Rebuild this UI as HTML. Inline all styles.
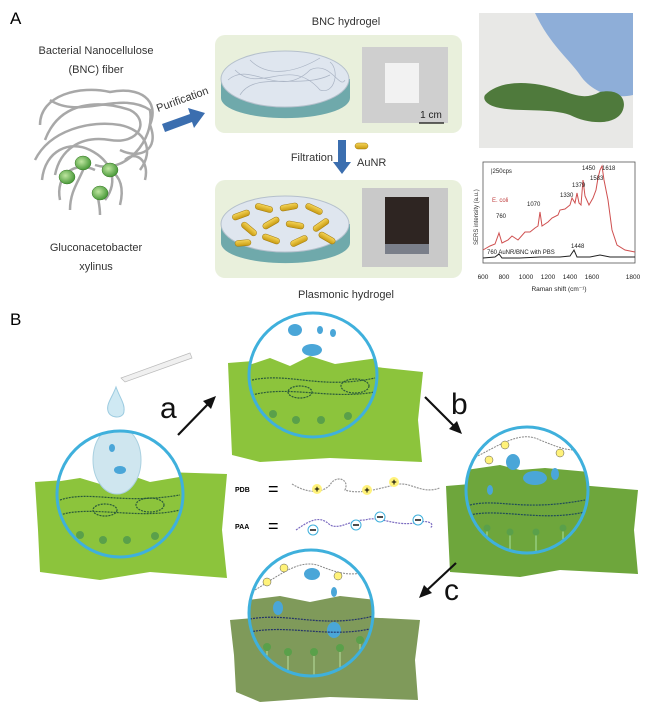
<!DOCTYPE html>
<html><head><meta charset="utf-8"><style>
html,body{margin:0;padding:0;background:#fff;}
svg{display:block;}
text{font-family:"Liberation Sans",sans-serif;}
</style></head><body>
<svg width="650" height="712" viewBox="0 0 650 712" xmlns="http://www.w3.org/2000/svg">
<defs>
<linearGradient id="rod" x1="0" y1="0" x2="0" y2="1"><stop offset="0" stop-color="#f6d65a"/><stop offset="1" stop-color="#c89a10"/></linearGradient>
<radialGradient id="bac" cx="0.4" cy="0.4" r="0.6"><stop offset="0" stop-color="#bfe6a0"/><stop offset="1" stop-color="#4a9a3a"/></radialGradient>
<clipPath id="cL"><ellipse cx="120" cy="494" rx="63" ry="63"/></clipPath>
<clipPath id="cT"><ellipse cx="313" cy="375" rx="64" ry="62"/></clipPath>
<clipPath id="cR"><ellipse cx="527" cy="490" rx="61" ry="63"/></clipPath>
<clipPath id="cB"><ellipse cx="311" cy="613" rx="62" ry="63"/></clipPath>
</defs>

<!-- ========== PART A ========== -->
<text x="10" y="24" font-size="17">A</text>
<text x="96" y="54" font-size="11" text-anchor="middle" fill="#333">Bacterial Nanocellulose</text>
<text x="96" y="73" font-size="11" text-anchor="middle" fill="#333">(BNC) fiber</text>
<text x="96" y="251" font-size="11" text-anchor="middle" fill="#333">Gluconacetobacter</text>
<text x="96" y="270" font-size="11" text-anchor="middle" fill="#333">xylinus</text>
<g fill="none" stroke="#a8a8a8" stroke-width="2.5">
<path d="M40 125 C40 95 80 85 110 92 C140 86 160 100 150 125 C160 150 140 160 120 150"/>
<path d="M45 140 C60 100 100 100 130 110 C150 120 140 145 110 140 C80 135 60 150 55 175"/>
<path d="M35 160 C50 130 90 120 120 125 C145 130 155 150 140 170"/>
<path d="M50 100 C80 120 120 90 150 110 C155 140 125 175 95 165"/>
<path d="M42 180 C45 150 70 140 90 150 C110 160 120 180 105 200"/>
<path d="M60 200 C55 175 75 160 95 170"/>
<path d="M70 210 C70 190 80 180 85 165"/>
<path d="M120 205 C125 185 118 175 110 170"/>
<path d="M145 180 C150 160 135 150 125 160"/>
<path d="M100 215 C100 200 95 195 100 190"/>
</g>
<g stroke="#3a7a2a" stroke-width="0.5">
<ellipse cx="67" cy="177" rx="8" ry="7" fill="url(#bac)"/>
<ellipse cx="83" cy="163" rx="8" ry="7" fill="url(#bac)"/>
<ellipse cx="110" cy="170" rx="8" ry="7" fill="url(#bac)"/>
<ellipse cx="100" cy="193" rx="8" ry="7" fill="url(#bac)"/>
</g>
<text x="0" y="0" font-size="11" fill="#333" transform="translate(158,112) rotate(-20)">Purification</text>
<polygon points="162,124 190,114 188,108 205,113 194,128 192,122 165,132" fill="#3b6eaf"/>

<text x="346" y="25" font-size="11" text-anchor="middle" fill="#333">BNC hydrogel</text>
<rect x="215" y="35" width="247" height="98" rx="10" fill="#e9f0dc"/>
<path d="M221 79 L221 98 A64 20 0 0 0 350 98 L350 79 Z" fill="#6fa9ab"/>
<ellipse cx="285" cy="79" rx="64" ry="28" fill="#dfe6ef" stroke="#b5c0cc"/>
<g fill="none" stroke="#aab4c4" stroke-width="0.7">
<path d="M228 80 C250 60 280 100 310 70 C330 60 340 90 345 80"/>
<path d="M235 70 C260 95 290 55 320 90 C335 95 340 70 330 62"/>
<path d="M240 95 C255 70 300 90 330 75"/>
<path d="M250 60 C270 80 300 70 320 58"/>
</g>
<rect x="362" y="47" width="86" height="76" fill="#cfcfcf"/>
<rect x="385" y="63" width="34" height="40" fill="#f2f2f2"/>
<text x="431" y="118" font-size="10" text-anchor="middle" fill="#222">1 cm</text>
<line x1="419" y1="123" x2="444" y2="123" stroke="#111" stroke-width="1.3"/>

<text x="333" y="161" font-size="11" text-anchor="end" fill="#333">Filtration</text>
<polygon points="338,140 346,140 346,162 351,162 342,174 333,162 338,162" fill="#3b6eaf"/>
<rect x="355" y="143" width="13" height="6" rx="3" fill="url(#rod)" stroke="#a07a10" stroke-width="0.5"/>
<text x="357" y="166" font-size="11" fill="#333">AuNR</text>

<rect x="215" y="180" width="247" height="98" rx="10" fill="#e9f0dc"/>
<path d="M221 224 L221 243 A64 20 0 0 0 350 243 L350 224 Z" fill="#6fa9ab"/>
<ellipse cx="285" cy="224" rx="64" ry="28" fill="#dfe6ef" stroke="#b5c0cc"/>
<g fill="url(#rod)" stroke="#a07a10" stroke-width="0.5">
<rect x="232" y="212" width="18" height="6" rx="3" transform="rotate(-20 241 215)"/>
<rect x="255" y="205" width="18" height="6" rx="3" transform="rotate(15 264 208)"/>
<rect x="280" y="204" width="18" height="6" rx="3" transform="rotate(-10 289 207)"/>
<rect x="305" y="206" width="18" height="6" rx="3" transform="rotate(25 314 209)"/>
<rect x="240" y="226" width="18" height="6" rx="3" transform="rotate(40 249 229)"/>
<rect x="262" y="220" width="18" height="6" rx="3" transform="rotate(-30 271 223)"/>
<rect x="286" y="222" width="18" height="6" rx="3" transform="rotate(10 295 225)"/>
<rect x="312" y="222" width="18" height="6" rx="3" transform="rotate(-35 321 225)"/>
<rect x="262" y="236" width="18" height="6" rx="3" transform="rotate(20 271 239)"/>
<rect x="290" y="238" width="18" height="6" rx="3" transform="rotate(-25 299 241)"/>
<rect x="318" y="235" width="18" height="6" rx="3" transform="rotate(30 327 238)"/>
<rect x="235" y="240" width="16" height="6" rx="3" transform="rotate(-5 243 243)"/>
</g>
<rect x="362" y="188" width="86" height="79" fill="#c9c9c9"/>
<rect x="385" y="197" width="44" height="53" fill="#2e2522"/>
<rect x="385" y="244" width="44" height="10" fill="#7a7f8a"/>
<text x="346" y="298" font-size="11" text-anchor="middle" fill="#333">Plasmonic hydrogel</text>

<rect x="479" y="13" width="154" height="135" fill="#e8e8e6"/>
<path d="M535 13 L633 13 L633 95 C610 100 590 90 580 75 C570 60 550 45 535 13 Z" fill="#8eaed8"/>
<path d="M485 95 C500 80 530 80 560 90 C575 95 585 100 600 92 C620 88 628 100 622 112 C615 125 590 125 570 115 C550 108 520 112 500 108 C488 106 482 100 485 95 Z" fill="#4f7a3c"/>

<rect x="483" y="162" width="152" height="101" fill="#fff" stroke="#555" stroke-width="0.8"/>
<text x="0" y="0" font-size="6" fill="#333" transform="translate(478,245) rotate(-90)">SERS intensity (a.u.)</text>
<text x="491" y="173" font-size="6" fill="#222">|250cps</text>
<text x="492" y="202" font-size="6" fill="#c04040">E. coli</text>
<polyline fill="none" stroke="#cf5050" stroke-width="1" points="483,250 490,246 495,244 499,233 502,243 508,240 512,236 518,240 525,232 530,232 535,228 538,226 540,212 542,226 548,222 552,218 558,215 560,210 565,209 570,205 572,198 575,203 577,193 579,203 581,205 583,180 585,196 589,205 593,198 596,190 598,178 600,170 602,166 604,180 608,200 612,230 617,245 625,250 635,252"/>
<polyline fill="none" stroke="#222" stroke-width="1" points="483,258 495,257 499,254 502,258 520,258 540,257 560,257 570,256 574,250 577,257 590,257 600,255 610,257 635,257"/>
<g font-size="6" fill="#222">
<text x="496" y="218">760</text><text x="527" y="206">1070</text><text x="560" y="197">1330</text>
<text x="572" y="187">1379</text><text x="582" y="170">1450</text><text x="590" y="180">1583</text><text x="602" y="170">1618</text>
<text x="487" y="254">760 AuNR/BNC with PBS</text><text x="571" y="248">1448</text>
</g>
<g font-size="6.5" fill="#222" text-anchor="middle">
<text x="483" y="279">600</text><text x="504" y="279">800</text><text x="526" y="279">1000</text><text x="548" y="279">1200</text><text x="570" y="279">1400</text><text x="592" y="279">1600</text><text x="633" y="279">1800</text>
<text x="559" y="291">Raman shift (cm⁻¹)</text>
</g>

<!-- ========== PART B ========== -->
<text x="10" y="325" font-size="17">B</text>

<path d="M35 482 L95 478 L100 470 L227 474 L222 530 L227 578 L150 572 L100 580 L40 572 L38 530 Z" fill="#8cc43c"/>
<path d="M228 363 L290 358 L423 372 L418 420 L422 462 L330 458 L260 462 L232 455 L230 410 Z" fill="#8cc43c"/>
<path d="M446 486 L520 480 L638 490 L634 530 L638 574 L560 570 L520 577 L450 572 L448 530 Z" fill="#6ea63c"/>
<path d="M230 620 L300 614 L420 620 L415 660 L418 700 L330 697 L260 702 L236 692 L234 655 Z" fill="#7f9a5a"/>

<g clip-path="url(#cL)">
<rect x="55" y="430" width="130" height="130" fill="#fff"/>
<path d="M55 482 L80 478 L100 484 L130 475 L150 482 L185 476 L185 560 L55 560 Z" fill="#8cc43c"/>
<ellipse cx="117" cy="460" rx="24" ry="34" fill="#cfe6ef" stroke="#a9d0e0"/>
<g fill="#4aa6d8"><ellipse cx="112" cy="448" rx="3" ry="4"/><ellipse cx="120" cy="470" rx="6" ry="4"/></g>
<g fill="none" stroke="#2a5a3a" stroke-width="1.2" stroke-dasharray="2 1">
<path d="M60 500 C90 490 120 505 180 495"/><path d="M60 515 C90 505 140 520 180 510"/>
<ellipse cx="150" cy="505" rx="14" ry="7"/><ellipse cx="105" cy="510" rx="12" ry="6"/>
</g>
<g fill="#5aa04a"><circle cx="80" cy="535" r="4"/><circle cx="103" cy="540" r="4"/><circle cx="127" cy="540" r="4"/><circle cx="155" cy="536" r="4"/></g>
</g>
<ellipse cx="120" cy="494" rx="63" ry="63" fill="none" stroke="#3fb0dc" stroke-width="3"/>
<path d="M121 378 L190 353 L192 358 L125 382 Z" fill="#f0f0f0" stroke="#bbb" stroke-width="0.7"/>
<path d="M116 387 C112 398 106 404 108 411 C110 419 124 419 124 411 C125 404 120 398 116 387 Z" fill="#cfe9f3" stroke="#9ccbe0"/>

<g clip-path="url(#cT)">
<rect x="249" y="313" width="130" height="125" fill="#fff"/>
<path d="M249 365 L270 358 L290 366 L310 356 L335 364 L378 358 L378 440 L249 440 Z" fill="#8cc43c"/>
<g fill="#4aa6d8"><ellipse cx="295" cy="330" rx="7" ry="6"/><ellipse cx="312" cy="350" rx="10" ry="6"/><ellipse cx="320" cy="330" rx="3" ry="4"/><ellipse cx="333" cy="333" rx="3" ry="4"/></g>
<g fill="none" stroke="#2a5a3a" stroke-width="1.2" stroke-dasharray="2 1">
<path d="M252 380 C290 372 320 390 375 378"/><path d="M252 395 C290 385 330 400 375 392"/>
<ellipse cx="355" cy="386" rx="14" ry="7"/><ellipse cx="300" cy="392" rx="12" ry="6"/>
</g>
<g fill="#5aa04a"><circle cx="273" cy="414" r="4"/><circle cx="296" cy="420" r="4"/><circle cx="321" cy="420" r="4"/><circle cx="348" cy="416" r="4"/></g>
</g>
<ellipse cx="313" cy="375" rx="64" ry="62" fill="none" stroke="#3fb0dc" stroke-width="3"/>

<g clip-path="url(#cR)">
<rect x="466" y="427" width="124" height="128" fill="#fff"/>
<path d="M466 470 L500 465 L520 470 L545 468 L590 472 L590 555 L466 555 Z" fill="#6ea63c"/>
<path d="M470 460 C500 445 520 430 540 440 C560 448 575 455 590 445" fill="none" stroke="#888" stroke-width="1" stroke-dasharray="2 1"/>
<g fill="#4aa6d8"><ellipse cx="513" cy="462" rx="7" ry="8"/><ellipse cx="535" cy="478" rx="12" ry="7"/><ellipse cx="555" cy="474" rx="4" ry="6"/><ellipse cx="490" cy="490" rx="3" ry="5"/></g>
<g fill="none" stroke="#1f4a5a" stroke-width="1.2" stroke-dasharray="2 1">
<path d="M470 505 C500 498 520 512 585 500"/><path d="M470 515 C500 508 540 522 585 512"/>
</g>
<g stroke="#a8e0a0" stroke-width="1"><line x1="487" y1="528" x2="487" y2="550"/><line x1="510" y1="532" x2="510" y2="552"/><line x1="536" y1="532" x2="536" y2="552"/><line x1="563" y1="528" x2="563" y2="548"/></g>
<g fill="#5aa04a"><circle cx="487" cy="528" r="3.5"/><circle cx="510" cy="532" r="3.5"/><circle cx="536" cy="532" r="3.5"/><circle cx="563" cy="528" r="3.5"/></g>
<g fill="#fff27a" stroke="#555" stroke-width="0.5"><circle cx="505" cy="445" r="4"/><circle cx="489" cy="460" r="4"/><circle cx="560" cy="453" r="4"/></g>
</g>
<ellipse cx="527" cy="490" rx="61" ry="63" fill="none" stroke="#3fb0dc" stroke-width="3"/>

<g clip-path="url(#cB)">
<rect x="248" y="550" width="128" height="128" fill="#fff"/>
<path d="M248 600 L280 596 L310 602 L340 596 L376 600 L376 678 L248 678 Z" fill="#7f9a5a"/>
<path d="M255 590 C280 575 300 558 320 566 C340 574 355 578 376 568" fill="none" stroke="#888" stroke-width="1" stroke-dasharray="2 1"/>
<g fill="#4aa6d8"><ellipse cx="312" cy="574" rx="8" ry="6"/><ellipse cx="334" cy="592" rx="3" ry="5"/><ellipse cx="278" cy="608" rx="5" ry="7"/><ellipse cx="334" cy="630" rx="7" ry="8"/></g>
<g fill="none" stroke="#23336a" stroke-width="1.2" stroke-dasharray="2 1">
<path d="M250 619 C290 612 320 629 374 616"/><path d="M250 632 C290 624 330 639 374 628"/>
</g>
<g stroke="#b8e0a0" stroke-width="1"><line x1="267" y1="647" x2="267" y2="665"/><line x1="288" y1="652" x2="288" y2="675"/><line x1="314" y1="652" x2="314" y2="678"/><line x1="340" y1="648" x2="340" y2="672"/><line x1="360" y1="640" x2="360" y2="660"/></g>
<g fill="#5aa04a"><circle cx="267" cy="647" r="4"/><circle cx="288" cy="652" r="4"/><circle cx="314" cy="652" r="4"/><circle cx="340" cy="648" r="4"/><circle cx="360" cy="640" r="4"/></g>
<g fill="#fff27a" stroke="#555" stroke-width="0.5"><circle cx="284" cy="568" r="4"/><circle cx="267" cy="582" r="4"/><circle cx="338" cy="576" r="4"/></g>
</g>
<ellipse cx="311" cy="613" rx="62" ry="63" fill="none" stroke="#3fb0dc" stroke-width="3"/>

<g stroke="#111" stroke-width="2.2" fill="#111">
<line x1="178" y1="435" x2="210" y2="402"/><polygon points="216,396 203,401 211,409" stroke="none"/>
<line x1="425" y1="397" x2="456" y2="428"/><polygon points="462,434 449,429 457,421" stroke="none"/>
<line x1="456" y1="563" x2="425" y2="592"/><polygon points="419,598 424,585 432,593" stroke="none"/>
</g>
<g font-family="Liberation Serif,serif" font-size="30" fill="#111">
<text x="160" y="418">a</text><text x="451" y="414">b</text><text x="444" y="600">c</text>
</g>
<text x="235" y="492" font-size="7" font-family="Liberation Serif,serif" font-weight="bold">PDB</text>
<text x="268" y="495" font-size="18">=</text>
<path d="M292 484 C305 492 320 495 330 485 C335 475 350 478 345 490 C360 495 380 488 395 485 C410 480 420 495 440 488" fill="none" stroke="#999" stroke-width="1.2" stroke-dasharray="2 1"/>
<g fill="#fff27a"><circle cx="317" cy="489" r="5"/><circle cx="367" cy="490" r="5"/><circle cx="394" cy="482" r="5"/></g>
<g font-size="9" font-weight="bold" text-anchor="middle"><text x="317" y="492">+</text><text x="367" y="493">+</text><text x="394" y="485">+</text></g>
<text x="235" y="529" font-size="7" font-family="Liberation Serif,serif" font-weight="bold">PAA</text>
<text x="268" y="532" font-size="18">=</text>
<path d="M296 530 C310 520 320 515 330 525 C340 530 350 520 365 520 C380 515 395 528 420 522 C430 520 435 525 430 528" fill="none" stroke="#7a6ac0" stroke-width="1.2" stroke-dasharray="2 1"/>
<g fill="#fff" stroke="#3fb0dc"><ellipse cx="313" cy="530" rx="5" ry="5"/><ellipse cx="356" cy="525" rx="5" ry="5"/><ellipse cx="380" cy="517" rx="5" ry="5"/><ellipse cx="418" cy="520" rx="5" ry="5"/></g>
<g stroke="#111" stroke-width="1.5"><line x1="310" y1="530" x2="316" y2="530"/><line x1="353" y1="525" x2="359" y2="525"/><line x1="377" y1="517" x2="383" y2="517"/><line x1="415" y1="520" x2="421" y2="520"/></g>
</svg>
</body></html>
